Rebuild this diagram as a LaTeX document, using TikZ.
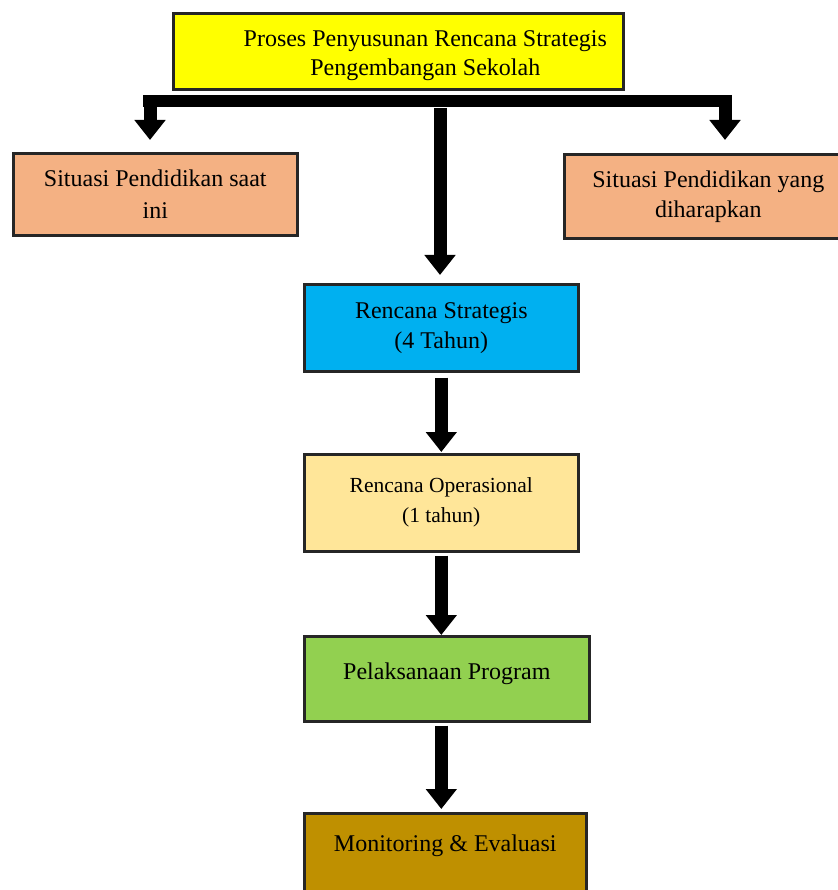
\documentclass[tikz,border=0pt]{standalone}
\usepackage{fontspec}
\setmainfont{Liberation Serif}
\usetikzlibrary{arrows.meta}
\definecolor{cTop}{HTML}{FFFF00}
\definecolor{cSit}{HTML}{F4B183}
\definecolor{cBlue}{HTML}{00B0F0}
\definecolor{cOp}{HTML}{FFE699}
\definecolor{cGreen}{HTML}{92D050}
\definecolor{cBrown}{HTML}{BF9000}
\tikzset{
  boxnode/.style={draw=black!85, line width=2.6pt, anchor=north west, align=center, inner sep=0pt, text=black},
  fatline/.style={line width=12pt, black},
  fatarrow/.style={line width=13pt, black, -{Triangle[width=30pt,length=20pt]}}
}
\begin{document}
\begin{tikzpicture}[x=1pt,y=-1pt]
\useasboundingbox (0,0) rectangle (837,890);
\node[boxnode, fill=cTop, minimum width=450, minimum height=76, font=\fontsize{24}{29}\selectfont] (top) at (172,12)
  {\rule{0pt}{24pt}\hspace*{54pt}Proses Penyusunan Rencana Strategis\\\hspace*{54pt}Pengembangan Sekolah};
\node[boxnode, fill=cSit, minimum width=284, minimum height=82, font=\fontsize{24}{32}\selectfont] (sit1) at (12,152)
  {Situasi Pendidikan saat\\ini};
\node[boxnode, fill=cSit, minimum width=288, minimum height=84, font=\fontsize{24}{30}\selectfont] (sit2) at (563,153)
  {Situasi Pendidikan yang\\diharapkan};
\node[boxnode, fill=cBlue, minimum width=274, minimum height=87, font=\fontsize{24}{30}\selectfont] (renstra) at (303,283)
  {Rencana Strategis\\(4 Tahun)};
\node[boxnode, fill=cOp, minimum width=274, minimum height=97, font=\fontsize{21.5}{30}\selectfont] (renop) at (303,453)
  {Rencana Operasional\\(1 tahun)};
\node[boxnode, fill=cGreen, minimum width=285, minimum height=85, text height=16pt, text depth=14pt, font=\fontsize{24}{30}\selectfont] (pelaks) at (303,635)
  {Pelaksanaan Program};
\node[boxnode, fill=cBrown, minimum width=282, minimum height=86, text height=16pt, text depth=26pt, font=\fontsize{24}{30}\selectfont] (monev) at (303,812)
  {Monitoring \& Evaluasi};
% branching bar
\coordinate (barL) at (143,101);
\coordinate (barR) at (732,101);
\coordinate (dropL) at (150,101);
\coordinate (dropR) at (725,95);
\coordinate (midTop) at (440,108);
\draw[fatline] (barL) -- (barR);
\draw[fatarrow, shorten >=12pt] (dropL) -- (dropL |- sit1.north);
\draw[fatarrow, shorten >=13pt] (dropR) -- (dropR |- sit2.north);
\draw[fatarrow, shorten >=8pt] (midTop) -- (midTop |- renstra.north);
\draw[fatarrow, shorten <=5pt, shorten >=1pt] (renstra.south) -- (renop.north);
\draw[fatarrow, shorten <=3pt] (renop.south) -- (renop.south |- pelaks.north);
\draw[fatarrow, shorten <=3pt, shorten >=3pt] (renop.south |- pelaks.south) -- (renop.south |- monev.north);
\end{tikzpicture}
\end{document}
